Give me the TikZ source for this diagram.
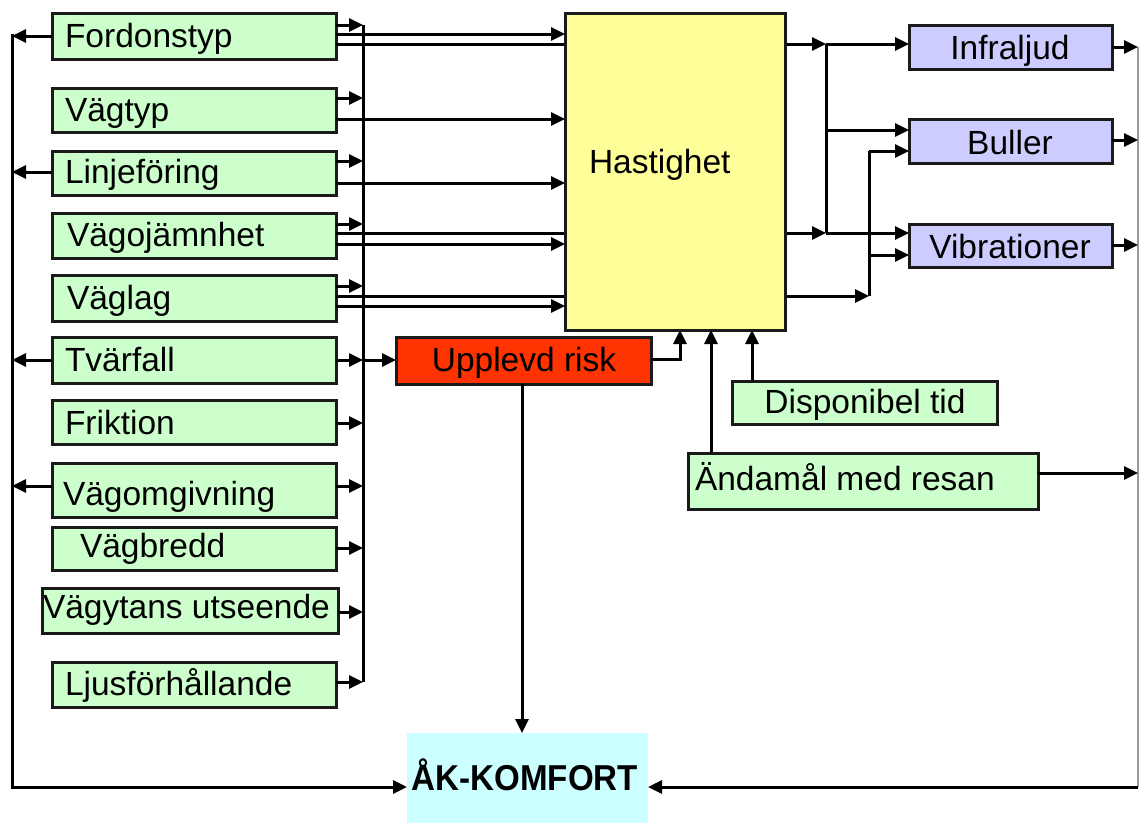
\documentclass[tikz,border=0pt]{standalone}
\usepackage{fontspec}
\setmainfont{Liberation Sans}
\usetikzlibrary{arrows.meta}
\definecolor{gfill}{HTML}{CCFFCC}
\definecolor{yfill}{HTML}{FFFF99}
\definecolor{pfill}{HTML}{CCCCFF}
\definecolor{rfill}{HTML}{FF3300}
\definecolor{cfill}{HTML}{CCFFFF}
\definecolor{edge}{HTML}{1A1A1A}
\begin{document}
\begin{tikzpicture}[x=1pt,y=-1pt,
  boxbase/.style={draw=edge,line width=3pt,inner sep=0pt,outer sep=0pt,anchor=north west},
  gbox/.style={boxbase,fill=gfill},
  ybox/.style={boxbase,fill=yfill},
  pbox/.style={boxbase,fill=pfill},
  rbox/.style={boxbase,fill=rfill},
  cbox/.style={inner sep=0pt,outer sep=0pt,anchor=north west,fill=cfill},
  lbl/.style={inner sep=0pt,outer sep=0pt,font=\fontsize{33.5}{40}\selectfont},
  blbl/.style={inner sep=0pt,outer sep=0pt,font=\fontsize{36}{42}\selectfont\bfseries},
  conn/.style={line width=3pt,draw=black},
  arr/.style={conn,-{Triangle[length=14pt,width=13pt]}},
  greyline/.style={line width=1.6pt,draw=black!40}
]
\useasboundingbox (0,0) rectangle (1139,823);

% ---- junction coordinates
\coordinate (j1t) at (826,44);
\coordinate (j1b) at (826,233);
\coordinate (j2t) at (869,151);
\coordinate (j2b) at (869,296);

% ---- left boxes
\node[gbox,minimum width=284,minimum height=46] (fordon) at (52,13) {};
\node[gbox,minimum width=284,minimum height=44] (vagtyp) at (52,88) {};
\node[gbox,minimum width=284,minimum height=44] (linje) at (52,151) {};
\node[gbox,minimum width=284,minimum height=45] (ojamn) at (52,213) {};
\node[gbox,minimum width=284,minimum height=46] (vaglag) at (52,275) {};
\node[gbox,minimum width=284,minimum height=46] (tvar) at (52,337) {};
\node[gbox,minimum width=284,minimum height=44] (frik) at (52,400) {};
\node[gbox,minimum width=284,minimum height=54] (omg) at (52,463) {};
\node[gbox,minimum width=284,minimum height=43] (bredd) at (52,527) {};
\node[gbox,minimum width=296,minimum height=45] (yta) at (42,588) {};
\node[gbox,minimum width=284,minimum height=45] (ljus) at (52,662) {};

\node[lbl,anchor=base west] (tfordon) at (65,47) {Fordonstyp};
\node[lbl,anchor=base west] (tvagtyp) at (65,121) {Vägtyp};
\node[lbl,anchor=base west] (tlinje) at (65,183) {Linjeföring};
\node[lbl,anchor=base west] (tojamn) at (67,246) {Vägojämnhet};
\node[lbl,anchor=base west] (tvaglag) at (67,309) {Väglag};
\node[lbl,anchor=base west] (ttvar) at (65,371) {Tvärfall};
\node[lbl,anchor=base west] (tfrik) at (65,434) {Friktion};
\node[lbl,anchor=base west] (tomg) at (63,505) {Vägomgivning};
\node[lbl,anchor=base west] (tbredd) at (80,557) {Vägbredd};
\node[lbl,anchor=base west] (tyta) at (43,618) {Vägytans utseende};
\node[lbl,anchor=base west] (tljus) at (65,695) {Ljusförhållande};

% through lines (behind Hastighet)
\draw[arr] (fordon.east |- j1t) -- (j1t);
\draw[arr] (ojamn.east |- j1b) -- (j1b);
\draw[arr] (vaglag.east |- j2b) -- (j2b);

% ---- Hastighet
\node[ybox,minimum width=220,minimum height=317] (hast) at (565,13) {};
\node[lbl,anchor=base west] (thast) at (589,173) {Hastighet};

% ---- output boxes
\node[pbox,minimum width=203,minimum height=44] (infra) at (909,25) {};
\node[pbox,minimum width=203,minimum height=44] (buller) at (909,119) {};
\node[pbox,minimum width=203,minimum height=43] (vib) at (909,224) {};
\node[lbl,anchor=base] (tinfra) at (1010,59) {Infraljud};
\node[lbl,anchor=base] (tbuller) at (1010,154) {Buller};
\node[lbl,anchor=base] (tvib) at (1010,258) {Vibrationer};

% ---- other boxes
\node[rbox,minimum width=255,minimum height=47] (risk) at (396,337) {};
\node[lbl,anchor=base] (trisk) at (524,371) {Upplevd risk};
\node[gbox,minimum width=265,minimum height=43] (disp) at (732,381) {};
\node[lbl,anchor=base] (tdisp) at (865,413) {Disponibel tid};
\node[gbox,minimum width=350,minimum height=56] (andam) at (688,453) {};
\node[lbl,anchor=base west] (tandam) at (695,490) {Ändamål med resan};
\node[cbox,minimum width=241,minimum height=90] (komf) at (407,733) {};
\node[blbl,anchor=base,xscale=0.92] (tkomf) at (525,790) {ÅK-KOMFORT};

% ---- coordinates
\coordinate (busT) at (363,25);
\coordinate (busB) at (363,682);
\coordinate (lT) at (12,34);
\coordinate (lB) at (12,787);
\coordinate (rT) at (1138,47);
\coordinate (rB) at (1138,787);

% bus and left/right lines
\draw[conn] (busT) -- (busB);
\draw[arr] (lT) -- (lB) -- (komf.west |- lB);
\draw[greyline] (rT) -- (rB);
\draw[arr] (rB) -- (komf.east |- rB);

% arrows to the left line
\draw[arr] (fordon.west |- 0,36) -- (lT |- 0,36);
\draw[arr] (linje.west |- 0,172) -- (lT |- 0,172);
\draw[arr] (tvar.west |- 0,360) -- (lT |- 0,360);
\draw[arr] (omg.west |- 0,486) -- (lT |- 0,486);

% arrows to the bus
\draw[arr] (fordon.east |- 0,25) -- (busT |- 0,25);
\draw[arr] (vagtyp.east |- 0,98) -- (busT |- 0,98);
\draw[arr] (linje.east |- 0,161) -- (busT |- 0,161);
\draw[arr] (ojamn.east |- 0,224) -- (busT |- 0,224);
\draw[arr] (vaglag.east |- 0,286) -- (busT |- 0,286);
\draw[arr] (tvar.east |- 0,360) -- (busT |- 0,360);
\draw[arr] (frik.east |- 0,423) -- (busT |- 0,423);
\draw[arr] (omg.east |- 0,486) -- (busT |- 0,486);
\draw[arr] (bredd.east |- 0,548) -- (busT |- 0,548);
\draw[arr] (yta.east |- 0,612) -- (busT |- 0,612);
\draw[arr] (ljus.east |- 0,682) -- (busT |- 0,682);
\draw[arr] (busT |- 0,360) -- (risk.west |- 0,360);

% arrows to Hastighet
\draw[arr] (fordon.east |- 0,34) -- (hast.west |- 0,34);
\draw[arr] (vagtyp.east |- 0,119) -- (hast.west |- 0,119);
\draw[arr] (linje.east |- 0,183) -- (hast.west |- 0,183);
\draw[arr] (ojamn.east |- 0,244) -- (hast.west |- 0,244);
\draw[arr] (vaglag.east |- 0,306) -- (hast.west |- 0,306);

% junctions to output boxes
\draw[conn] (j1t) -- (j1b);
\draw[conn] (j2b) -- (j2t);
\draw[arr] (j1t) -- (infra.west |- j1t);
\draw[arr] (j1t |- 0,130) -- (buller.west |- 0,130);
\draw[arr] (j1b) -- (vib.west |- j1b);
\draw[arr] (j2t) -- (buller.west |- j2t);
\draw[arr] (j2t |- 0,255) -- (vib.west |- 0,255);

% outputs to the right
\draw[arr] (infra.east |- rT) -- (rT);
\draw[arr] (buller.east |- 0,140) -- (rT |- 0,140);
\draw[arr] (vib.east |- 0,245) -- (rT |- 0,245);
\draw[arr] (andam.east |- 0,473) -- (rT |- 0,473);

% into Hastighet from below
\draw[arr] (risk.east |- 0,359) -- (680,359) -- (hast.south -| 680,0);
\draw[arr] (andam.north -| 711,0) -- (hast.south -| 711,0);
\draw[arr] (disp.north -| 752,0) -- (hast.south -| 752,0);

% risk to comfort
\draw[arr] (risk.south -| 522,0) -- (komf.north -| 522,0);
\end{tikzpicture}
\end{document}
